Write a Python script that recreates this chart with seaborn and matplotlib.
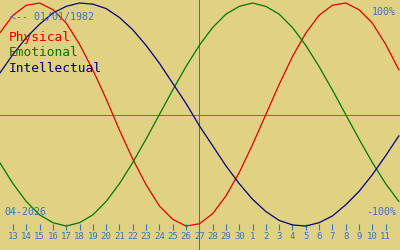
import matplotlib
matplotlib.use("Agg")
import matplotlib.pyplot as plt
import seaborn as sns
import pandas as pd

# day index -1 .. 29  (index 0 = 13 April 2026, index 14 = 27 April = today)
day_index = list(range(-1, 30))
physical = [0.73, 0.89, 0.98, 1.00, 0.94, 0.82, 0.63, 0.40, 0.14, -0.14, -0.40,
            -0.63, -0.82, -0.94, -1.00, -0.98, -0.89, -0.73, -0.52, -0.27, 0.00,
            0.27, 0.52, 0.73, 0.89, 0.98, 1.00, 0.94, 0.82, 0.63, 0.40]
emotional = [-0.43, -0.62, -0.78, -0.90, -0.97, -1.00, -0.97, -0.90, -0.78, -0.62,
             -0.43, -0.22, 0.00, 0.22, 0.43, 0.62, 0.78, 0.90, 0.97, 1.00, 0.97,
             0.90, 0.78, 0.62, 0.43, 0.22, 0.00, -0.22, -0.43, -0.62, -0.78]
intellectual = [0.37, 0.54, 0.69, 0.81, 0.91, 0.97, 1.00, 0.99, 0.95, 0.87, 0.76,
                0.62, 0.46, 0.28, 0.10, -0.10, -0.28, -0.46, -0.62, -0.76, -0.87,
                -0.95, -0.99, -1.00, -0.97, -0.91, -0.81, -0.69, -0.54, -0.37, -0.19]
tick_labels = [str(d) for d in range(13, 31)] + [str(d) for d in range(1, 12)]
series_names = ["Physical", "Emotional", "Intellectual"]
today_index = 14
birth_text = "<-- 01/01/1982"
month_text = "04-2026"

BG = "#E0D282"
BLUE = "#3A72C4"
colors = {"Physical": "#E00000", "Emotional": "#007800", "Intellectual": "#000080"}

df = pd.concat([
    pd.DataFrame({"day": day_index, "value": physical, "series": "Physical"}),
    pd.DataFrame({"day": day_index, "value": emotional, "series": "Emotional"}),
    pd.DataFrame({"day": day_index, "value": intellectual, "series": "Intellectual"}),
])

sns.set_style("white")
plt.rcParams["font.family"] = ["DejaVu Sans Mono"]

fig = plt.figure(figsize=(4, 2.5), dpi=100, facecolor=BG)
ax = fig.add_axes([0, 0, 1, 1])
ax.set_facecolor(BG)

ax.axhline(0, color="#4A78B0", lw=0.72, zorder=1, antialiased=False)
ax.axvline(today_index, color=BLUE, lw=0.72, zorder=1, antialiased=False)

sns.lineplot(data=df, x="day", y="value", hue="series", palette=colors,
             hue_order=series_names, lw=0.9, legend=False, ax=ax, zorder=2,
             sort=False, estimator=None)

ax.set_xlim(-0.977, 29.08)
ax.set_ylim(-1.215, 1.027)
ax.set_xticks([])
ax.set_yticks([])
for s in ax.spines.values():
    s.set_visible(False)
ax.set_xlabel("")
ax.set_ylabel("")

sec = ax.secondary_xaxis(0.104)
sec.set_xticks(list(range(len(tick_labels))))
sec.set_xticklabels(tick_labels)
sec.tick_params(axis="x", direction="out", length=4.3, width=0.8, color=BLUE,
                labelcolor=BLUE, labelsize=6.5, pad=1.5)
for s in sec.spines.values():
    s.set_visible(False)

T = ax.transAxes
def px(x, y):
    return x / 400, 1 - y / 250

ax.text(*px(10, 17), birth_text, transform=T, color=BLUE, fontsize=7.2,
        va="center", ha="left")
for name, yy in zip(series_names, [38, 53, 68]):
    ax.text(*px(9, yy), name, transform=T, color=colors[name], fontsize=9.3,
            va="center", ha="left")
ax.text(*px(396, 12), "100%", transform=T, color=BLUE, fontsize=7.2,
        va="center", ha="right")
ax.text(*px(396, 212), "-100%", transform=T, color=BLUE, fontsize=7.2,
        va="center", ha="right")
ax.text(*px(4, 212), month_text, transform=T, color=BLUE, fontsize=7.2,
        va="center", ha="left")

fig.savefig("out.png", dpi=100, facecolor=BG)
